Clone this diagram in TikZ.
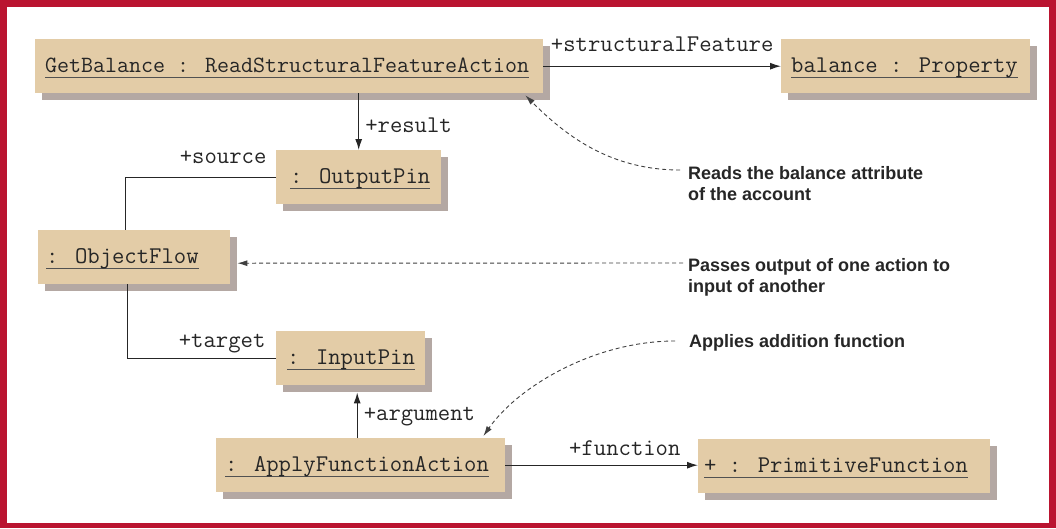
\documentclass[tikz,border=0pt]{standalone}
\usepackage{fontspec}
\newfontfamily\notesans{Liberation Sans}
\usetikzlibrary{arrows.meta,shadows}

\definecolor{framered}{HTML}{BA1430}
\definecolor{boxfill}{HTML}{E3CCA7}
\definecolor{boxshadow}{HTML}{B4A8A3}
\definecolor{ink}{HTML}{262626}
\definecolor{noteline}{HTML}{404040}

\newcommand\monotext{\fontsize{24}{28}\selectfont\ttfamily}
\newcommand\notetext{\notesans\bfseries\fontsize{18}{21}\selectfont}
% object name, underlined at a fixed depth
\newcommand\objname[1]{\sbox0{#1}\rlap{\color{ink!80}\rule[-6pt]{\wd0}{1.2pt}}\usebox0}
% box content: width, left padding, name
\newcommand\objtext[3]{\makebox[#1][l]{\hspace*{#2}\objname{#3}}}

\tikzset{
  objbox/.style={fill=boxfill, anchor=north west, inner sep=0pt,
    text height=33pt, text depth=21pt, font=\monotext, text=ink,
    drop shadow={shadow xshift=7pt, shadow yshift=-7pt, fill=boxshadow, opacity=1}},
  link/.style={draw=ink, line width=1.2pt},
  arr/.style={link, -{Latex[length=11pt,width=7pt]}},
  lbl/.style={font=\monotext, text=ink, inner sep=0pt},
  note/.style={font=\notetext, text=ink, align=left, anchor=north west, inner sep=0pt},
  notelink/.style={draw=noteline, line width=0.9pt, dash pattern=on 4pt off 3pt,
    -{Latex[length=10pt,width=6pt]}}
}

\begin{document}
\begin{tikzpicture}[x=1pt,y=-1pt]
  % Rahmen
  \fill[framered] (0,0) rectangle (1056,528);
  \fill[white] (7,7) rectangle (1049,523);
  \useasboundingbox (0,0) rectangle (1056,528);

  % Objekte
  \node[objbox, font=\fontsize{23.3}{28}\selectfont\ttfamily] (gb) at (35,39)
    {\objtext{508pt}{10pt}{GetBalance : ReadStructuralFeatureAction}};
  \node[objbox] (prop) at (781,39) {\objtext{249pt}{10pt}{balance : Property}};
  \node[objbox] (outpin) at (276,150) {\objtext{165pt}{14pt}{: OutputPin}};
  \node[objbox] (objflow) at (38,230) {\objtext{192pt}{8pt}{: ObjectFlow}};
  \node[objbox] (inpin) at (276,331) {\objtext{149pt}{11pt}{: InputPin}};
  \node[objbox] (apply) at (216,438) {\objtext{289pt}{9pt}{: ApplyFunctionAction}};
  \node[objbox] (prim) at (698,439) {\objtext{292pt}{6pt}{+ : PrimitiveFunction}};

  % Kommentare
  \node[note] (rd) at (688,166) {Reads the balance attribute\\of the account};
  \node[note] (ps) at (688,258) {Passes output of one action to\\input of another};
  \node[note] (ap) at (689,334) {Applies addition function};

  % Verbindungen
  \draw[arr] (gb.east) -- node[lbl, midway, anchor=base, yshift=15pt] {+structuralFeature} (prop.west);
  \draw[arr] (outpin.north |- gb.south) -- node[lbl, anchor=base west, xshift=6pt, yshift=-11pt] {+result} (outpin.north);
  \draw[link] (outpin.west) node[lbl, anchor=base east, xshift=-9pt, yshift=14pt] {+source}
    -| ([xshift=-9pt]objflow.north);
  \draw[link] (inpin.west) node[lbl, anchor=base east, xshift=-10pt, yshift=11pt] {+target}
    -| ([xshift=-7pt]objflow.south);
  \draw[arr] ([xshift=-3.5pt]apply.north) -- node[lbl, anchor=base west, xshift=6pt, yshift=-5pt] {+argument}
    ([xshift=6.5pt,yshift=-7pt]inpin.south);
  \draw[arr] (apply.east) -- node[lbl, pos=0.62, anchor=base, yshift=10pt] {+function} (apply.east -| prim.west);

  % gestrichelte Hinweise
  \draw[notelink] ([xshift=-8pt,yshift=-4pt]rd.north west) .. controls +(-70,0) and +(40,40) ..
    ([xshift=-18pt,yshift=-2pt]gb.south east);
  \draw[notelink] ([xshift=-5pt,yshift=-5pt]ps.north west) -- ([xshift=7pt,yshift=-6pt]objflow.east);
  \draw[notelink] ([xshift=-14pt,yshift=-7pt]ap.north west) .. controls +(-80,0) and +(35,-50) ..
    ([xshift=-22pt,yshift=2pt]apply.north east);
\end{tikzpicture}
\end{document}
